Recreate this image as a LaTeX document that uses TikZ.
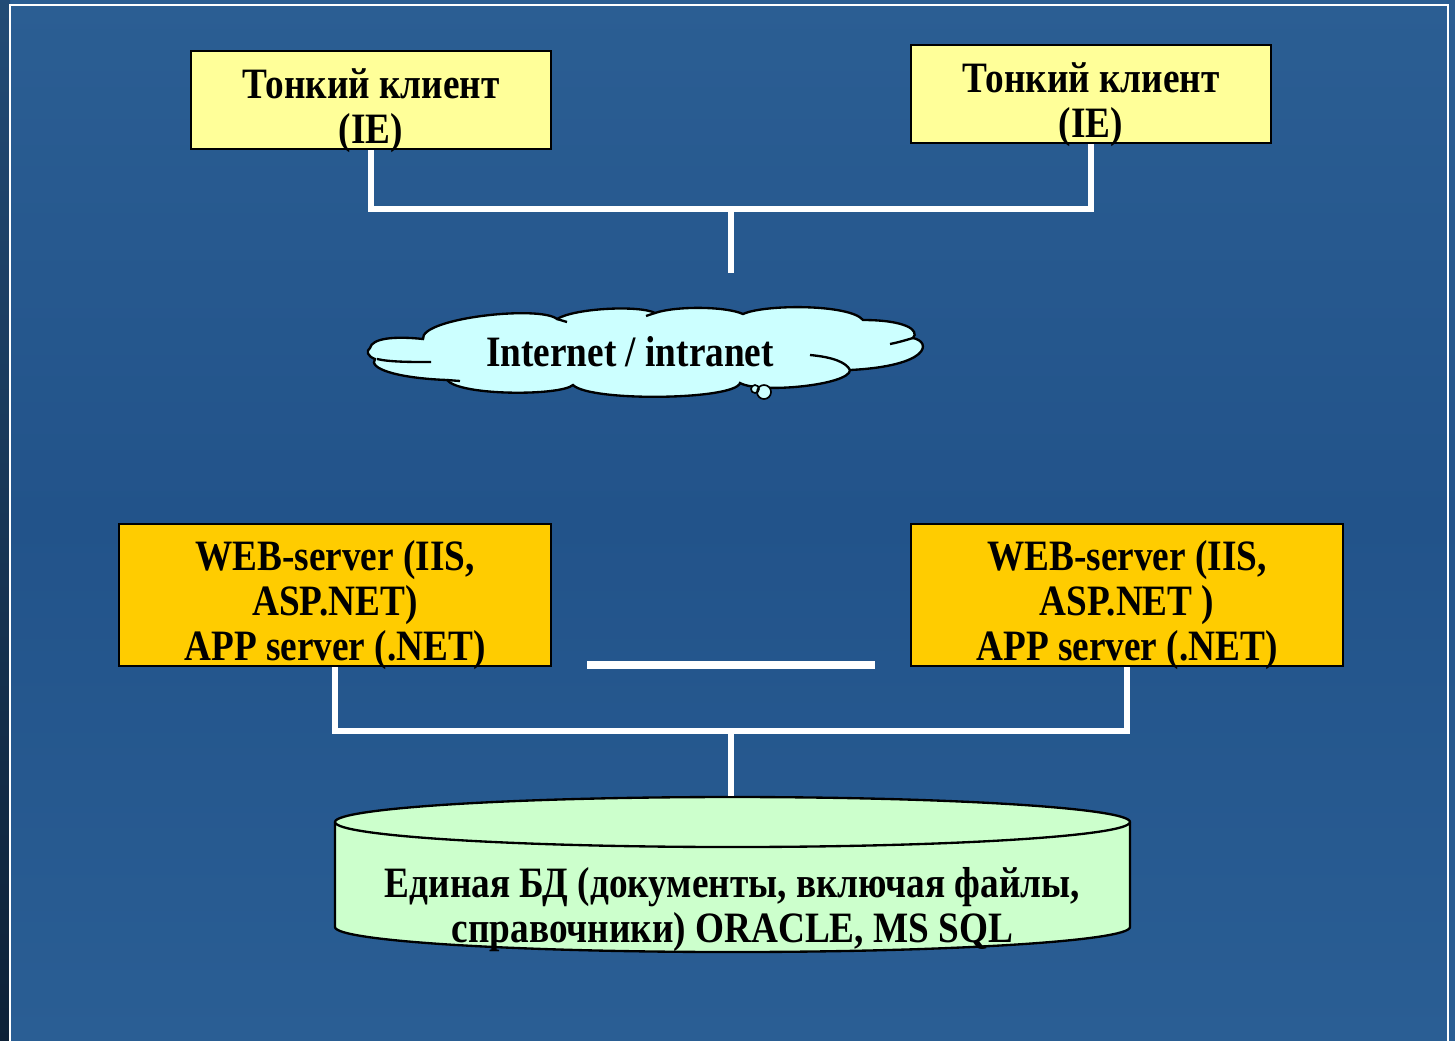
\documentclass[tikz,border=0pt]{standalone}
\usepackage{fontspec}
\setmainfont{Liberation Serif}[FakeStretch=0.86]
\usepackage{tikz}
\usetikzlibrary{positioning}

\definecolor{bgtop}{HTML}{2B5E93}
\definecolor{bgmid}{HTML}{22538A}
\definecolor{bgbot}{HTML}{2A5E94}
\definecolor{clientyellow}{HTML}{FFFF99}
\definecolor{serverorange}{HTML}{FFCC00}
\definecolor{cloudcyan}{HTML}{CCFFFF}
\definecolor{dbgreen}{HTML}{CCFFCC}

% lines of a box, moved down by #1
\newcommand{\boxlines}[2][6.5pt]{\raisebox{-#1}[0pt][0pt]{\begin{tabular}{@{}c@{}}#2\end{tabular}}}

\begin{document}
\begin{tikzpicture}[x=0.3pt,y=-0.3pt,
          box/.style={rectangle,draw=black,line width=0.7pt,inner sep=0pt,
                      font=\fontsize{13}{13.5}\selectfont\bfseries},
          client/.style={box,fill=clientyellow,minimum width=108pt,minimum height=29.4pt},
          server/.style={box,fill=serverorange,minimum width=129.6pt,minimum height=42.6pt},
          outline/.style={draw=black,line width=0.7pt},
          link/.style={draw=white,line width=1.6pt}]

        % background and frame
        \useasboundingbox (0,0) rectangle (1455,1040);
        \shade[top color=bgtop,bottom color=bgbot,middle color=bgmid] (0,0) rectangle (1455,1040);
        \shade[top color=bgtop!80!black,bottom color=bgmid!40!black] (0,0) rectangle (10,1040);
        \draw[white,line width=0.6pt] (10,1045) -- (10,5) -- (1448,5) -- (1448,1045);

        % clients
        \node[client] (cl1) at (371,100) {\boxlines{Тонкий клиент\\(IE)}};
        \node[client] (cl2) at (1091,94) {\boxlines{Тонкий клиент\\(IE)}};

        % network cloud
        \path[outline,fill=cloudcyan] (370,348)
              .. controls (372,338) and (395,336) .. (423,339)
              .. controls (420,318) and (540,305) .. (557,319)
              .. controls (575,308) and (640,305) .. (655,313)
              .. controls (675,306) and (725,306) .. (743,314)
              .. controls (765,304) and (850,304) .. (863,320)
              .. controls (905,320) and (920,330) .. (913,338)
              .. controls (932,342) and (930,366) .. (850,370)
              .. controls (850,385) and (760,394) .. (740,383)
              .. controls (735,400) and (590,402) .. (573,385)
              .. controls (560,396) and (460,396) .. (447,380)
              .. controls (395,378) and (368,368) .. (375,359)
              .. controls (367,356) and (366,351) .. cycle;
        \path[outline] (377,359) .. controls (390,362) and (410,362) .. (431,362);
        \path[outline] (810,355) .. controls (832,357) and (846,362) .. (850,370);
        \path[outline] (890,344) .. controls (900,342) and (906,340) .. (913,338);
        \path[outline] (557,319) -- (567,322);
        \path[outline] (655,313) -- (646,316);
        \path[outline] (447,380) -- (460,381);
        \fill[cloudcyan] (764,392) circle[radius=7];
        \fill[cloudcyan] (755,389) circle[radius=4];
        \draw[black,line width=0.5pt] (764,392) circle[radius=7];
        \draw[black,line width=0.5pt] (755,389) circle[radius=4];
        \node[font=\fontsize{13}{13.5}\selectfont\bfseries,inner sep=0pt] (net) at (630,352) {Internet / intranet};

        % servers
        \node[server] (ws1) at (335,595) {\boxlines{WEB-server (IIS,\\ASP.NET)\\APP server (.NET)}};
        \node[server] (ws2) at (1127,595) {\boxlines{WEB-server (IIS,\\ASP.NET )\\APP server (.NET)}};

        % database
        \filldraw[outline,fill=dbgreen]
              (335,822) arc[start angle=180,end angle=0,x radius=119.25pt,y radius=7.5pt]
              -- (1130,927) arc[start angle=0,end angle=-180,x radius=119.25pt,y radius=7.5pt] -- cycle;
        \draw[outline] (335,822) arc[start angle=180,end angle=360,x radius=119.25pt,y radius=7.5pt];
        \node[box,draw=none,minimum width=238.5pt,minimum height=46.5pt] (db) at (732.5,874.5)
              {\boxlines[13.8pt]{Единая БД (документы, включая файлы,\\справочники) ORACLE, MS SQL}};

        % connectors
        \coordinate (tophub) at (731,209);
        \coordinate (netin) at (731,273);
        \coordinate (bothub) at (731,731);
        \coordinate (gapL) at (587,665);
        \coordinate (gapR) at (875,665);

        \path[link] (cl1.south) |- (tophub) -| (cl2.south);
        \path[link] (tophub) -- (netin);
        \path[link] (ws1.south) |- (bothub) -| (ws2.south);
        \path[link] (bothub) -- (bothub |- db.north);
        \path[link,line width=2.2pt] (gapL) -- (gapR);
      \end{tikzpicture}
\end{document}
